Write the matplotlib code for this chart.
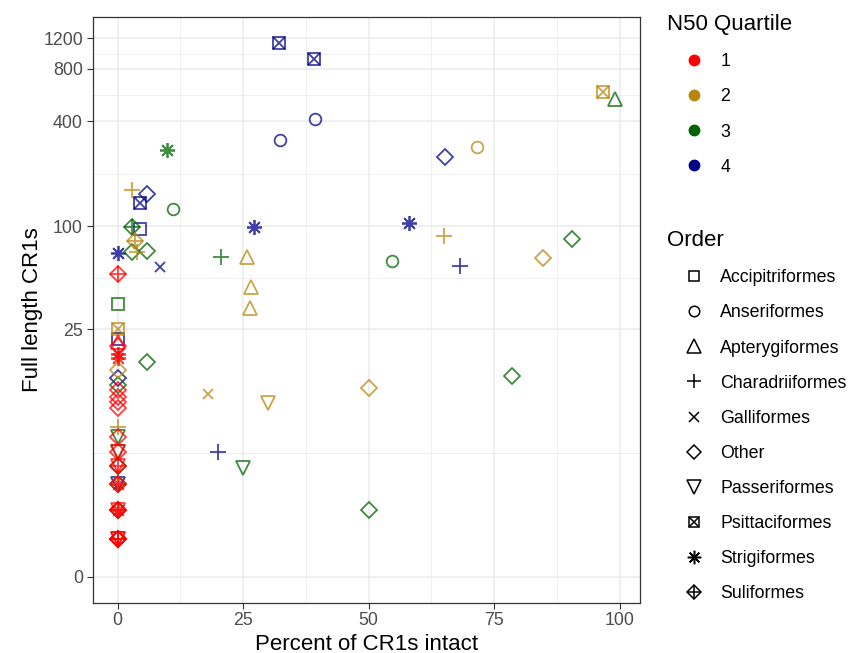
import numpy as np
import matplotlib
matplotlib.use("Agg")
import matplotlib.pyplot as plt
from matplotlib.lines import Line2D

plt.rcParams['font.family'] = ['Liberation Sans', 'DejaVu Sans']

# data
pct = [32.1, 39.2, 39.3, 32.3, 9.8, 2.9, 5.9, 4.4, 11.1, 2.9, 4.4, 27.2, 3.4, 3.9,
       2.9, 5.9, 0, 20.5, 25.7, 8.35, 0, 26.6, 0, 26.4, 0, 0, 0, 0, 0, 0,
       0, 0, 0, 0, 0, 0, 0, 0, 0, 0, 0, 0, 0,
       0, 0, 0, 0, 0, 0,
       0, 0, 0, 0, 0,
       0, 0, 0, 0, 0,
       0, 0, 0, 0,
       5.9, 18.0, 29.9, 19.9, 24.9, 50.0, 50.0, 58.0, 65.1, 54.6, 68.2, 84.8,
       90.5, 78.5, 96.7, 99.1, 65.3, 71.6]
cr1 = [1129, 915, 413, 312, 275, 161, 153, 136, 126, 99.4, 97, 99, 82.5, 71.3,
       71, 72, 69.8, 66.7, 66, 58.3, 52.9, 44.6, 35.2, 33.6, 25.1, 21.9, 21.0, 20.0, 17.8, 16.8,
       14.2, 12.66, 11.5, 10.7, 9.72, 9.04, 8.2, 6.22, 5.28, 5.28, 4.2, 4.2, 4.2,
       3.325, 3.325, 3.325, 2.386, 2.386, 2.386,
       2.386, 2.386, 1.415, 1.415, 1.415,
       1.415, 1.415, 0.643, 0.643, 0.643,
       0.643, 0.643, 0.643, 0.643,
       16.0, 10.1, 8.9, 4.2, 3.18, 11.1, 1.415, 104, 88.2, 63.2, 58.9, 65.2,
       84.4, 13.1, 588, 536, 251, 287]
quartile = [4, 4, 4, 4, 3, 2, 4, 4, 3, 3, 4, 4, 2, 2,
            3, 3, 4, 3, 2, 4, 1, 2, 3, 2, 2, 4, 1, 1, 1, 1,
            2, 4, 3, 1, 1, 1, 1, 2, 3, 1, 1, 3, 1,
            1, 3, 1, 4, 1, 2,
            4, 1, 1, 1, 3,
            1, 1, 1, 1, 2,
            1, 1, 1, 1,
            3, 2, 2, 4, 3, 2, 3, 4, 2, 3, 4, 2,
            3, 3, 2, 3, 4, 2]
order = ["Psittaciformes", "Psittaciformes", "Anseriformes", "Anseriformes", "Strigiformes",
         "Charadriiformes", "Other", "Psittaciformes", "Anseriformes", "Suliformes",
         "Accipitriformes", "Strigiformes", "Suliformes", "Charadriiformes",
         "Other", "Other", "Strigiformes", "Charadriiformes", "Apterygiformes", "Galliformes",
         "Suliformes", "Apterygiformes", "Accipitriformes", "Apterygiformes", "Psittaciformes",
         "Accipitriformes", "Apterygiformes", "Other", "Strigiformes", "Strigiformes",
         "Other", "Other", "Other", "Other", "Other", "Other", "Other", "Charadriiformes",
         "Passeriformes", "Other", "Other", "Passeriformes", "Passeriformes",
         "Suliformes", "Other", "Passeriformes", "Other", "Other", "Suliformes",
         "Passeriformes", "Strigiformes", "Other", "Strigiformes", "Other",
         "Passeriformes", "Suliformes", "Other", "Passeriformes", "Charadriiformes",
         "Suliformes", "Other", "Passeriformes", "Suliformes",
         "Other", "Galliformes", "Passeriformes", "Charadriiformes", "Passeriformes", "Other",
         "Other", "Strigiformes", "Charadriiformes", "Anseriformes", "Charadriiformes", "Other",
         "Other", "Other", "Psittaciformes", "Apterygiformes", "Other", "Anseriformes"]

quartiles = [1, 2, 3, 4]
q_colors = {1: "#FF0000", 2: "#B8860B", 3: "#006400", 4: "#00008B"}
orders = ["Accipitriformes", "Anseriformes", "Apterygiformes", "Charadriiformes",
          "Galliformes", "Other", "Passeriformes", "Psittaciformes", "Strigiformes",
          "Suliformes"]
y_ticks = [0, 25, 100, 400, 800, 1200]
x_ticks = [0, 25, 50, 75, 100]

# marker pieces per order: list of (marker, size)
shapes = {
    "Accipitriformes": [("s", 8.2)],
    "Anseriformes": [("o", 8.4)],
    "Apterygiformes": [("^", 10.5)],
    "Charadriiformes": [("+", 11.3)],
    "Galliformes": [("x", 7.7)],
    "Other": [("D", 7.8)],
    "Passeriformes": [("v", 10.5)],
    "Psittaciformes": [("s", 8.2), ("x", 8.2)],
    "Strigiformes": [((8, 2, 0), 10.8)],
    "Suliformes": [("D", 7.8), ("+", 11.0)],
}

fig = plt.figure(figsize=(8.5, 6.53), dpi=100)
ax = fig.add_axes([92.7 / 850, 50.3 / 653, (640 - 92.7) / 850, (602.7 - 16.7) / 653])

fwd = lambda v: np.log10(np.asarray(v, dtype=float) + 1)
inv = lambda t: 10 ** np.asarray(t, dtype=float) - 1
ax.set_yscale("function", functions=(fwd, inv))

pct_a = np.array(pct)
cr1_a = np.array(cr1)
q_a = np.array(quartile)
o_a = np.array(order)

for q in [4, 3, 2, 1]:
    for o in orders:
        m = (q_a == q) & (o_a == o)
        if not m.any():
            continue
        for mk, ms in shapes[o]:
            ax.plot(pct_a[m], cr1_a[m], ls="", marker=mk, ms=ms, mfc="none",
                    mec=q_colors[q], mew=1.3, alpha=0.75, zorder=3)

# limits
ax.set_xlim(-4.96, 104.06)
ax.set_ylim(inv(-0.147), inv(3.202))

# grid
t_major = fwd(y_ticks)
y_minor = inv((t_major[:-1] + t_major[1:]) / 2)
x_minor = [12.5, 37.5, 62.5, 87.5]
for v in y_ticks:
    ax.axhline(v, color="#EBEBEB", lw=1.1, zorder=0)
for v in y_minor:
    ax.axhline(v, color="#EBEBEB", lw=0.55, zorder=0)
for v in x_ticks:
    ax.axvline(v, color="#EBEBEB", lw=1.1, zorder=0)
for v in x_minor:
    ax.axvline(v, color="#EBEBEB", lw=0.55, zorder=0)

ax.set_yticks(y_ticks)
ax.set_yticklabels([str(v) for v in y_ticks])
ax.set_xticks(x_ticks)
ax.set_xticklabels([str(v) for v in x_ticks])
ax.minorticks_off()
ax.tick_params(axis="both", length=4, width=0.8, color="#333333",
               labelcolor="#4D4D4D", labelsize=12.8, pad=3)
for s in ax.spines.values():
    s.set_color("#333333")
    s.set_linewidth(0.9)

ax.set_xlabel("Percent of CR1s intact", fontsize=16, labelpad=3)
ax.set_ylabel("Full length CR1s", fontsize=16, labelpad=0)

# legends
h1 = [Line2D([], [], ls="", marker="o", ms=7.5, color=q_colors[q]) for q in quartiles]
leg1 = fig.legend(h1, [str(q) for q in quartiles], title="N50 Quartile",
                  loc="upper left", bbox_to_anchor=(660 / 850, 1 - 7 / 653),
                  frameon=False, fontsize=12.8, title_fontsize=16,
                  labelspacing=1.02, handletextpad=0.0, handlelength=3.0,
                  borderaxespad=0)
leg1._legend_box.align = "left"

h2 = []
for o in orders:
    parts = tuple(Line2D([], [], ls="", marker=mk, ms=ms * 0.9, mfc="none", mec="black",
                         mew=1.1) for mk, ms in shapes[o])
    h2.append(parts if len(parts) > 1 else parts[0])
leg2 = fig.legend(h2, orders, title="Order",
                  loc="upper left", bbox_to_anchor=(660 / 850, 1 - 223 / 653),
                  frameon=False, fontsize=12.8, title_fontsize=16,
                  labelspacing=1.02, handletextpad=0.0, handlelength=3.0,
                  borderaxespad=0)
leg2._legend_box.align = "left"

fig.savefig("out.png", dpi=100)
